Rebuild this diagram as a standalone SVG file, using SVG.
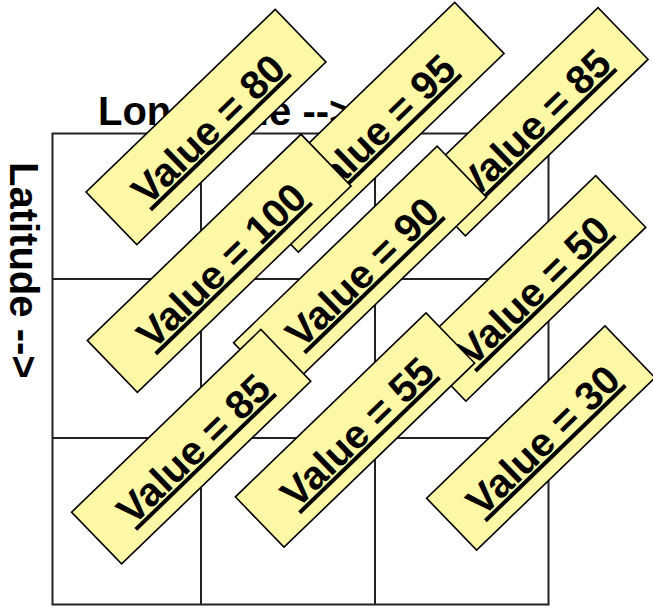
<svg xmlns="http://www.w3.org/2000/svg" width="653" height="613" viewBox="0 0 653 613">
<style>
.axis{font-family:"Liberation Sans",Arial,sans-serif;font-weight:bold;font-size:40px;fill:#000}
.grid{fill:none;stroke:#222;stroke-width:2}
.box rect{fill:#FCF8A6;stroke:#000;stroke-width:1.6}
.box text{font-family:"Liberation Sans",Arial,sans-serif;font-weight:bold;font-size:40px;fill:#000;text-anchor:middle;text-decoration:underline}
</style>
<rect width="653" height="613" fill="#fff"/>
<g id="labels">
<text class="axis" x="98" y="125">Longitude --&gt;</text>
<text class="axis" transform="translate(10,162) rotate(90)">Latitude --&gt;</text>
</g>
<g id="grid" class="grid">
<rect x="52.5" y="133.5" width="496" height="471"/>
<line x1="201" y1="133.5" x2="201" y2="604.5"/>
<line x1="375" y1="133.5" x2="375" y2="604.5"/>
<line x1="52.5" y1="279" x2="548.5" y2="279"/>
<line x1="52.5" y1="438" x2="548.5" y2="438"/>
</g>
<g id="v80" class="box" transform="translate(206,127) rotate(-44)"><rect x="-131.5" y="-36.5" width="263" height="73"/><text x="0" y="17">Value = 80</text></g>
<g id="v95" class="box" transform="translate(376.5,127.2) rotate(-44)"><rect x="-143" y="-35.5" width="286" height="71"/><text x="0" y="17">Value = 95</text></g>
<g id="v85a" class="box" transform="translate(531.7,121.7) rotate(-44)"><rect x="-127" y="-36" width="254" height="72"/><text x="0" y="17">Value = 85</text></g>
<g id="v100" class="box" transform="translate(219.2,263.3) rotate(-44)"><rect x="-148.5" y="-36" width="297" height="72"/><text x="0" y="17">Value = 100</text></g>
<g id="v90" class="box" transform="translate(360,270) rotate(-44)"><rect x="-141.5" y="-35.5" width="283" height="71"/><text x="0" y="17">Value = 90</text></g>
<g id="v50" class="box" transform="translate(530.8,288.3) rotate(-44)"><rect x="-125" y="-36" width="250" height="72"/><text x="0" y="17">Value = 50</text></g>
<g id="v85b" class="box" transform="translate(191.2,446.7) rotate(-44)"><rect x="-131.5" y="-36" width="263" height="72"/><text x="0" y="17">Value = 85</text></g>
<g id="v55" class="box" transform="translate(355,430) rotate(-44)"><rect x="-132.5" y="-35" width="265" height="70"/><text x="0" y="17">Value = 55</text></g>
<g id="v30" class="box" transform="translate(540.8,438) rotate(-44)"><rect x="-124" y="-36" width="248" height="72"/><text x="0" y="17">Value = 30</text></g>
</svg>
